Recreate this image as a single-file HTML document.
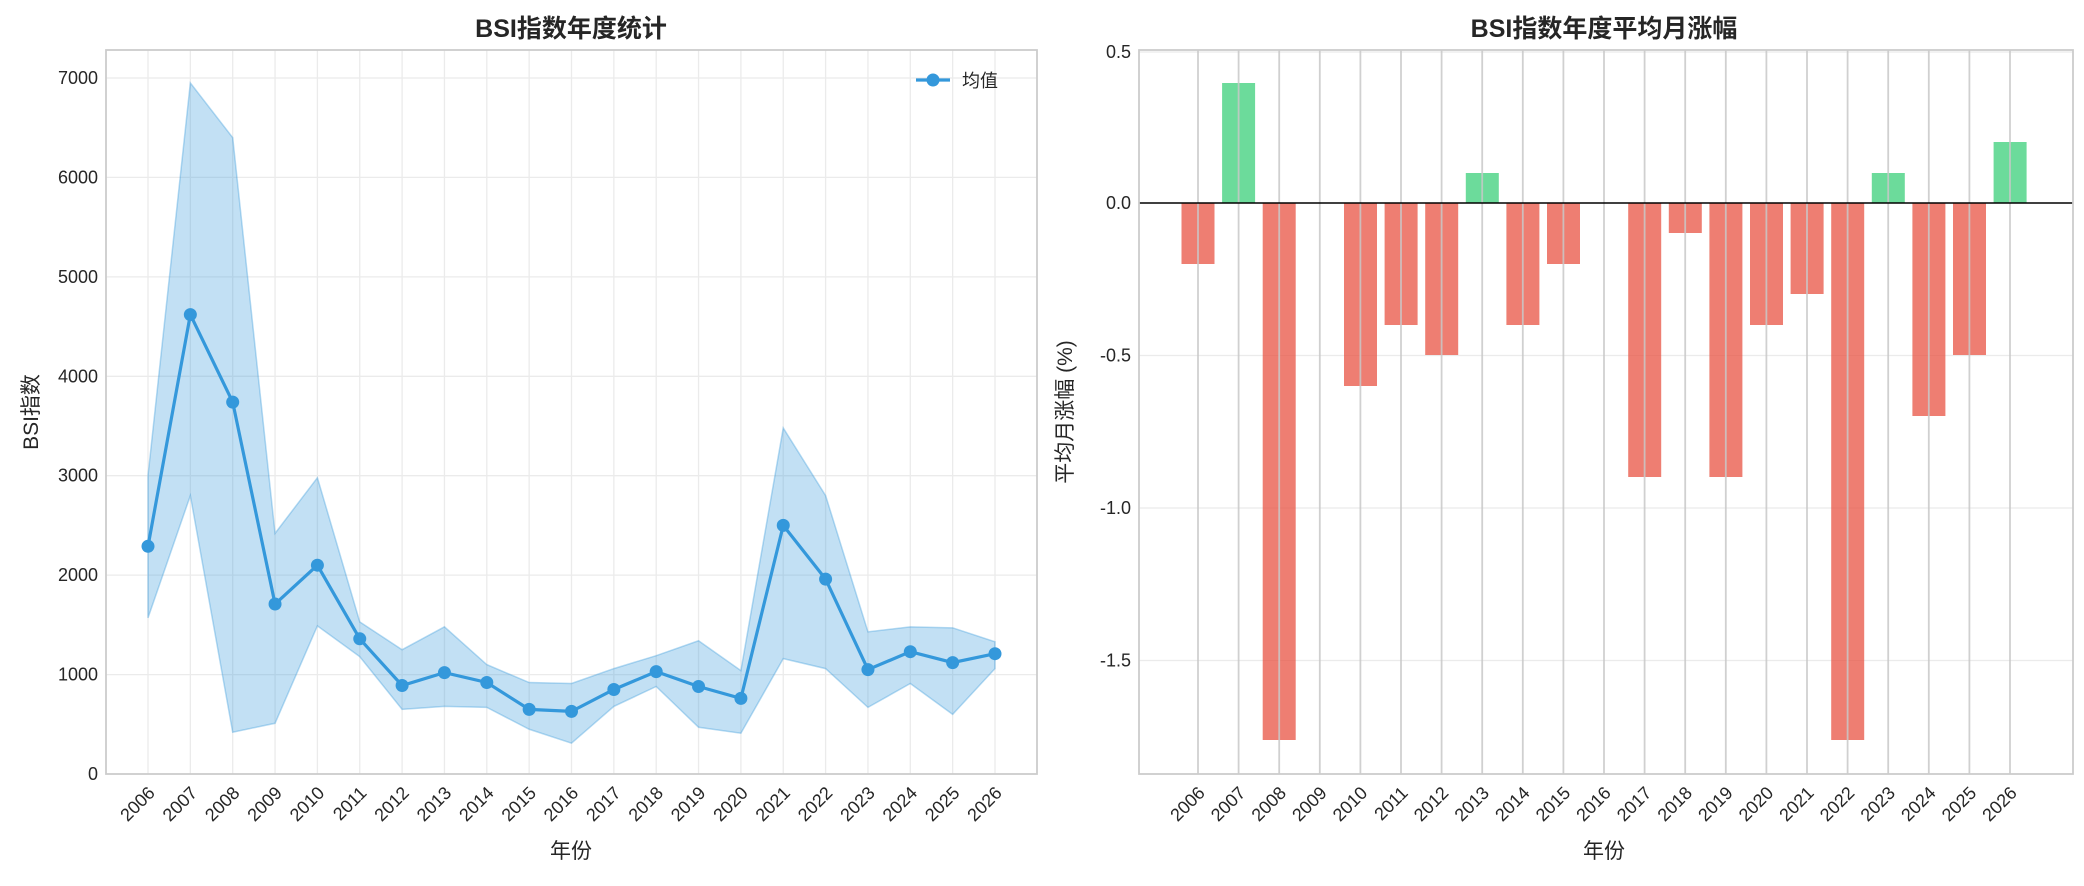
<!DOCTYPE html>
<html><head><meta charset="utf-8"><style>
body{margin:0;background:#fff}
text{font-family:"Liberation Sans","Noto Sans CJK SC",sans-serif;fill:#262626}
</style></head><body>
<svg width="2084" height="881" xmlns="http://www.w3.org/2000/svg">
<rect width="2084" height="881" fill="#fff"/>
<!-- LEFT -->
<g stroke="#ebebeb" stroke-width="1.3">
<line x1="148" y1="50" x2="148" y2="774"/><line x1="190.35" y1="50" x2="190.35" y2="774"/><line x1="232.7" y1="50" x2="232.7" y2="774"/><line x1="275.05" y1="50" x2="275.05" y2="774"/><line x1="317.4" y1="50" x2="317.4" y2="774"/><line x1="359.75" y1="50" x2="359.75" y2="774"/><line x1="402.1" y1="50" x2="402.1" y2="774"/><line x1="444.45" y1="50" x2="444.45" y2="774"/><line x1="486.8" y1="50" x2="486.8" y2="774"/><line x1="529.15" y1="50" x2="529.15" y2="774"/><line x1="571.5" y1="50" x2="571.5" y2="774"/><line x1="613.85" y1="50" x2="613.85" y2="774"/><line x1="656.2" y1="50" x2="656.2" y2="774"/><line x1="698.55" y1="50" x2="698.55" y2="774"/><line x1="740.9" y1="50" x2="740.9" y2="774"/><line x1="783.25" y1="50" x2="783.25" y2="774"/><line x1="825.6" y1="50" x2="825.6" y2="774"/><line x1="867.95" y1="50" x2="867.95" y2="774"/><line x1="910.3" y1="50" x2="910.3" y2="774"/><line x1="952.65" y1="50" x2="952.65" y2="774"/><line x1="995" y1="50" x2="995" y2="774"/>
<line x1="106" y1="78" x2="1037" y2="78"/><line x1="106" y1="177.4" x2="1037" y2="177.4"/><line x1="106" y1="276.9" x2="1037" y2="276.9"/><line x1="106" y1="376.3" x2="1037" y2="376.3"/><line x1="106" y1="475.7" x2="1037" y2="475.7"/><line x1="106" y1="575.1" x2="1037" y2="575.1"/><line x1="106" y1="674.6" x2="1037" y2="674.6"/>
</g>
<g transform="translate(148,774) scale(42.35,-0.09943)">
<path d="M0,3000 L1,6950 2,6400 3,2420 4,2980 5,1530 6,1250 7,1480 8,1100 9,920 10,910 11,1060 12,1190 13,1340 14,1040 15,3480 16,2800 17,1430 18,1480 19,1470 20,1330 L20,1060 19,600 18,910 17,670 16,1060 15,1160 14,410 13,470 12,880 11,680 10,310 9,450 8,670 7,680 6,650 5,1180 4,1490 3,510 2,420 1,2800 0,1570 Z" fill="#3498db" fill-opacity="0.3" stroke="#3498db" stroke-opacity="0.35" stroke-width="1.5" vector-effect="non-scaling-stroke"/>
</g>
<polyline fill="none" stroke="#3498db" stroke-width="3.2" points="148,546.3 190.35,314.6 232.7,402.1 275.05,604 317.4,565.2 359.75,638.8 402.1,685.5 444.45,672.6 486.8,682.5 529.15,709.4 571.5,711.4 613.85,689.5 656.2,671.6 698.55,686.5 740.9,698.4 783.25,525.4 825.6,579.1 867.95,669.6 910.3,651.7 952.65,662.6 995,653.7"/>
<g fill="#3498db">
<circle cx="148" cy="546.3" r="6.5"/><circle cx="190.35" cy="314.6" r="6.5"/><circle cx="232.7" cy="402.1" r="6.5"/><circle cx="275.05" cy="604" r="6.5"/><circle cx="317.4" cy="565.2" r="6.5"/><circle cx="359.75" cy="638.8" r="6.5"/><circle cx="402.1" cy="685.5" r="6.5"/><circle cx="444.45" cy="672.6" r="6.5"/><circle cx="486.8" cy="682.5" r="6.5"/><circle cx="529.15" cy="709.4" r="6.5"/><circle cx="571.5" cy="711.4" r="6.5"/><circle cx="613.85" cy="689.5" r="6.5"/><circle cx="656.2" cy="671.6" r="6.5"/><circle cx="698.55" cy="686.5" r="6.5"/><circle cx="740.9" cy="698.4" r="6.5"/><circle cx="783.25" cy="525.4" r="6.5"/><circle cx="825.6" cy="579.1" r="6.5"/><circle cx="867.95" cy="669.6" r="6.5"/><circle cx="910.3" cy="651.7" r="6.5"/><circle cx="952.65" cy="662.6" r="6.5"/><circle cx="995" cy="653.7" r="6.5"/>
</g>
<rect x="106" y="50" width="931" height="724" fill="none" stroke="#cccccc" stroke-width="1.8"/>
<!-- legend -->
<line x1="916" y1="80" x2="950" y2="80" stroke="#3498db" stroke-width="3.2"/><circle cx="933" cy="80" r="6.5" fill="#3498db"/>
<text x="962" y="87" font-size="18">均值</text>
<g font-size="18" text-anchor="end">
<text x="98" y="84">7000</text><text x="98" y="183.4">6000</text><text x="98" y="282.9">5000</text><text x="98" y="382.3">4000</text><text x="98" y="481.7">3000</text><text x="98" y="581.1">2000</text><text x="98" y="680.6">1000</text><text x="98" y="780">0</text>
</g>
<g font-size="18" text-anchor="end">
<text transform="translate(156,794) rotate(-45)">2006</text><text transform="translate(198.35,794) rotate(-45)">2007</text><text transform="translate(240.7,794) rotate(-45)">2008</text><text transform="translate(283.05,794) rotate(-45)">2009</text><text transform="translate(325.4,794) rotate(-45)">2010</text><text transform="translate(367.75,794) rotate(-45)">2011</text><text transform="translate(410.1,794) rotate(-45)">2012</text><text transform="translate(452.45,794) rotate(-45)">2013</text><text transform="translate(494.8,794) rotate(-45)">2014</text><text transform="translate(537.15,794) rotate(-45)">2015</text><text transform="translate(579.5,794) rotate(-45)">2016</text><text transform="translate(621.85,794) rotate(-45)">2017</text><text transform="translate(664.2,794) rotate(-45)">2018</text><text transform="translate(706.55,794) rotate(-45)">2019</text><text transform="translate(748.9,794) rotate(-45)">2020</text><text transform="translate(791.25,794) rotate(-45)">2021</text><text transform="translate(833.6,794) rotate(-45)">2022</text><text transform="translate(875.95,794) rotate(-45)">2023</text><text transform="translate(918.3,794) rotate(-45)">2024</text><text transform="translate(960.65,794) rotate(-45)">2025</text><text transform="translate(1003,794) rotate(-45)">2026</text>
</g>
<text x="571" y="858" font-size="21" text-anchor="middle">年份</text>
<text transform="translate(38,412) rotate(-90)" font-size="21" text-anchor="middle">BSI指数</text>
<text x="571" y="37" font-size="25" font-weight="bold" text-anchor="middle">BSI指数年度统计</text>

<!-- RIGHT -->
<g stroke="#ebebeb" stroke-width="1.3">
<line x1="1139" y1="355.5" x2="2073" y2="355.5"/><line x1="1139" y1="508" x2="2073" y2="508"/><line x1="1139" y1="660.5" x2="2073" y2="660.5"/><line x1="1139" y1="52" x2="2073" y2="52"/>
</g>
<g fill="#e74c3c" fill-opacity="0.72">
<rect x="1181.5" y="203" width="33" height="61"/>
<rect x="1262.7" y="203" width="33" height="537"/>
<rect x="1344" y="203" width="33" height="183"/>
<rect x="1384.6" y="203" width="33" height="122"/>
<rect x="1425.2" y="203" width="33" height="152"/>
<rect x="1506.4" y="203" width="33" height="122"/>
<rect x="1547" y="203" width="33" height="61"/>
<rect x="1628.2" y="203" width="33" height="274"/>
<rect x="1668.8" y="203" width="33" height="30"/>
<rect x="1709.4" y="203" width="33" height="274"/>
<rect x="1750" y="203" width="33" height="122"/>
<rect x="1790.6" y="203" width="33" height="91"/>
<rect x="1831.2" y="203" width="33" height="537"/>
<rect x="1912.4" y="203" width="33" height="213"/>
<rect x="1953" y="203" width="33" height="152"/>
</g>
<g fill="#2ecc71" fill-opacity="0.7">
<rect x="1222.1" y="83" width="33" height="120"/>
<rect x="1465.8" y="173" width="33" height="30"/>
<rect x="1871.8" y="173" width="33" height="30"/>
<rect x="1993.6" y="142" width="33" height="61"/>
</g>
<g stroke="#c8c8c8" stroke-opacity="0.85" stroke-width="1.8">
<line x1="1198" y1="50" x2="1198" y2="774"/><line x1="1238.6" y1="50" x2="1238.6" y2="774"/><line x1="1279.2" y1="50" x2="1279.2" y2="774"/><line x1="1319.8" y1="50" x2="1319.8" y2="774"/><line x1="1360.4" y1="50" x2="1360.4" y2="774"/><line x1="1401" y1="50" x2="1401" y2="774"/><line x1="1441.6" y1="50" x2="1441.6" y2="774"/><line x1="1482.2" y1="50" x2="1482.2" y2="774"/><line x1="1522.8" y1="50" x2="1522.8" y2="774"/><line x1="1563.4" y1="50" x2="1563.4" y2="774"/><line x1="1604" y1="50" x2="1604" y2="774"/><line x1="1644.6" y1="50" x2="1644.6" y2="774"/><line x1="1685.2" y1="50" x2="1685.2" y2="774"/><line x1="1725.8" y1="50" x2="1725.8" y2="774"/><line x1="1766.4" y1="50" x2="1766.4" y2="774"/><line x1="1807" y1="50" x2="1807" y2="774"/><line x1="1847.6" y1="50" x2="1847.6" y2="774"/><line x1="1888.2" y1="50" x2="1888.2" y2="774"/><line x1="1928.8" y1="50" x2="1928.8" y2="774"/><line x1="1969.4" y1="50" x2="1969.4" y2="774"/><line x1="2010" y1="50" x2="2010" y2="774"/>
</g>
<line x1="1139" y1="203" x2="2073" y2="203" stroke="#000" stroke-width="1.4"/>
<rect x="1139" y="50" width="934" height="724" fill="none" stroke="#cccccc" stroke-width="1.8"/>
<g font-size="18" text-anchor="end">
<text x="1131" y="58">0.5</text><text x="1131" y="209">0.0</text><text x="1131" y="361.5">-0.5</text><text x="1131" y="514">-1.0</text><text x="1131" y="666.5">-1.5</text>
</g>
<g font-size="18" text-anchor="end">
<text transform="translate(1206,794) rotate(-45)">2006</text><text transform="translate(1246.6,794) rotate(-45)">2007</text><text transform="translate(1287.2,794) rotate(-45)">2008</text><text transform="translate(1327.8,794) rotate(-45)">2009</text><text transform="translate(1368.4,794) rotate(-45)">2010</text><text transform="translate(1409,794) rotate(-45)">2011</text><text transform="translate(1449.6,794) rotate(-45)">2012</text><text transform="translate(1490.2,794) rotate(-45)">2013</text><text transform="translate(1530.8,794) rotate(-45)">2014</text><text transform="translate(1571.4,794) rotate(-45)">2015</text><text transform="translate(1612,794) rotate(-45)">2016</text><text transform="translate(1652.6,794) rotate(-45)">2017</text><text transform="translate(1693.2,794) rotate(-45)">2018</text><text transform="translate(1733.8,794) rotate(-45)">2019</text><text transform="translate(1774.4,794) rotate(-45)">2020</text><text transform="translate(1815,794) rotate(-45)">2021</text><text transform="translate(1855.6,794) rotate(-45)">2022</text><text transform="translate(1896.2,794) rotate(-45)">2023</text><text transform="translate(1936.8,794) rotate(-45)">2024</text><text transform="translate(1977.4,794) rotate(-45)">2025</text><text transform="translate(2018,794) rotate(-45)">2026</text>
</g>
<text x="1604" y="858" font-size="21" text-anchor="middle">年份</text>
<text transform="translate(1072,412) rotate(-90)" font-size="21" text-anchor="middle">平均月涨幅 (%)</text>
<text x="1604" y="37" font-size="25" font-weight="bold" text-anchor="middle">BSI指数年度平均月涨幅</text>
</svg>
</body></html>
